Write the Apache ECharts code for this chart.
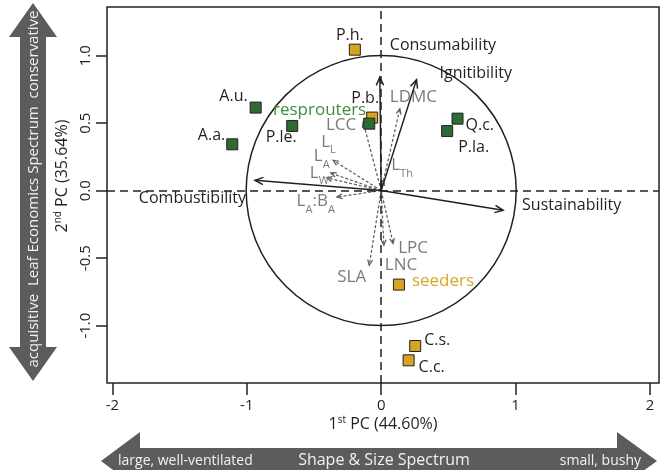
<!DOCTYPE html>
<html><head><meta charset="utf-8">
<script src="https://cdn.jsdelivr.net/npm/echarts@6/dist/echarts.min.js"></script>
<style>html,body{margin:0;padding:0;background:#fff}#c{width:665px;height:470px}</style>
</head><body><div id="c"></div>
<script>
// ---------------- data ----------------
const xTicks = [-2, -1, 0, 1, 2];
const yTicks = [-1, -0.5, 0, 0.5, 1];
const resprouterNames = ["A.u.", "A.a.", "P.le.", "Q.c.", "P.la."];
const resprouterX = [-0.934, -1.108, -0.662, 0.568, 0.491];
const resprouterY = [0.615, 0.343, 0.479, 0.533, 0.441];
const seederNames = ["P.h.", "P.b.", "C.s.", "C.c."];
const seederX = [-0.196, -0.067, 0.253, 0.204];
const seederY = [1.044, 0.541, -1.151, -1.257];
const groupNames = ["resprouters", "seeders"];
const groupX = [-0.089, 0.132];
const groupY = [0.496, -0.696];
const fireNames = ["Consumability", "Ignitibility", "Combustibility", "Sustainability"];
const fireX = [-0.01, 0.263, -0.939, 0.907];
const fireY = [0.841, 0.822, 0.076, -0.146];
const traitNames = ["LDMC", "LCC", "L_L", "L_A", "L_W", "L_A:B_A", "L_Th", "SLA", "LNC", "LPC"];
const traitX = [0.139, -0.134, -0.357, -0.375, -0.405, -0.33, 0.015, -0.089, 0.02, 0.089];
const traitY = [0.607, 0.508, 0.224, 0.13, 0.095, -0.047, 0.078, -0.553, -0.405, -0.393];

// ---------------- layout / style ----------------
const FONT = '"Open Sans", sans-serif';
const INK = '#231f20';
const GREEN = '#2e6b34';
const YELLOW = '#d6a51f';
const GREY_TXT = '#7b7b7b';
const GREY_ARROW = '#5a5a5a';
const BAND = '#5c5c5c';

const siteLabelLayout = {
  "A.u.": [-8, -11, 'right'], "A.a.": [-7, -9, 'right'], "P.le.": [-11, 11, 'center'],
  "Q.c.": [8, 7, 'left'], "P.la.": [11, 16, 'left'], "P.h.": [-5, -14, 'center'],
  "P.b.": [-7, -19, 'center'], "C.s.": [9, -6, 'left'], "C.c.": [10, 7, 'left'],
  "resprouters": [-3, -13, 'right'], "seeders": [13, -3, 'left']
};
const traitLabelLayout = {
  "LDMC": [-10, -10, 'left'], "LCC": [-7, 5, 'right'], "L_L": [-12, -17, 'left'],
  "L_A": [-17, -15, 'left'], "L_W": [-17, -3, 'left'], "L_A:B_A": [-2, 6, 'right'],
  "L_Th": [8, -13, 'left'], "SLA": [-3, 13, 'right'], "LNC": [1, 21, 'left'], "LPC": [5, 6, 'left']
};
const fireLabelLayout = {
  "Consumability": [10, -30, 'left'], "Ignitibility": [23, -4, 'left'],
  "Combustibility": [-9, 20, 'right'], "Sustainability": [19, -3, 'left']
};

function richName(n) {
  return n.replace(/_(\w+)/g, '{s|$1}').replace(/(^|\})([^{}]+)(?=\{|$)/g, '$1{n|$2}');
}

function siteData(names, xs, ys) {
  return names.map((n, i) => {
    const L = siteLabelLayout[n];
    return { name: n, value: [xs[i], ys[i]], label: { offset: [L[0], L[1]], align: L[2] } };
  });
}

function arrowSeries(names, xs, ys, layout, opt) {
  return {
    type: 'custom', coordinateSystem: 'cartesian2d', silent: true, z: opt.z,
    data: xs.map((x, i) => [x, ys[i], i]),
    renderItem(params, api) {
      const o = api.coord([0, 0]);
      const t = api.coord([api.value(0), api.value(1)]);
      const idx = api.value(2);
      const ang = Math.atan2(t[1] - o[1], t[0] - o[0]);
      const h = opt.head, sp = 0.42;
      const h1 = [t[0] + h * Math.cos(ang + Math.PI - sp), t[1] + h * Math.sin(ang + Math.PI - sp)];
      const h2 = [t[0] + h * Math.cos(ang + Math.PI + sp), t[1] + h * Math.sin(ang + Math.PI + sp)];
      const L = layout[names[idx]];
      return {
        type: 'group', children: [
          { type: 'line', shape: { x1: o[0], y1: o[1], x2: t[0], y2: t[1] },
            style: { stroke: opt.color, lineWidth: opt.width, lineDash: opt.dash } },
          { type: 'polyline', shape: { points: [h1, t, h2] },
            style: { stroke: opt.color, lineWidth: opt.width, fill: null } },
          { type: 'text', x: t[0] + L[0], y: t[1] + L[1],
            style: { text: richName(names[idx]), align: L[2], verticalAlign: 'middle',
              fill: opt.textColor, fontFamily: FONT, fontSize: opt.fontSize,
              rich: {
                n: { fontSize: opt.fontSize, fontFamily: FONT, fill: opt.textColor, verticalAlign: 'top', lineHeight: 20 },
                s: { fontSize: 11, fontFamily: FONT, fill: opt.textColor, verticalAlign: 'top', padding: [11, 0, 0, 0], lineHeight: 12 }
              } } }
        ]
      };
    }
  };
}

const chart = echarts.init(document.getElementById('c'), null, { renderer: 'canvas' });

const siteLabel = { show: true, position: 'inside', color: INK, fontFamily: FONT, fontSize: 16, verticalAlign: 'middle' };

const option = {
  backgroundColor: '#fff',
  animation: false,
  grid: { left: 107, right: 6, top: 7, bottom: 87, show: true, borderColor: INK, borderWidth: 1.5,
          backgroundColor: 'transparent', outerBoundsMode: 'none' },
  xAxis: {
    type: 'value', min: -2.04, max: 2.067,
    axisLine: { show: false, onZero: false },
    axisTick: { show: true, customValues: xTicks, length: 12, lineStyle: { color: INK, width: 1.5 } },
    axisLabel: { customValues: xTicks, color: INK, fontFamily: FONT, fontSize: 15, margin: 15 },
    splitLine: { show: false }
  },
  yAxis: {
    type: 'value', min: -1.425, max: 1.36,
    axisLine: { show: false, onZero: false },
    axisTick: { show: true, customValues: yTicks, length: 11, lineStyle: { color: INK, width: 1.5 } },
    axisLabel: { customValues: yTicks, rotate: 90, color: INK, fontFamily: FONT, fontSize: 15, margin: 14,
                 formatter: v => v.toFixed(1) },
    splitLine: { show: false }
  },
  graphic: [
    // horizontal big arrow (Shape & Size Spectrum)
    { type: 'polygon', silent: true, z: 1,
      shape: { points: [[101, 461], [140, 432], [140, 448], [617, 448], [617, 432], [657, 461], [617, 490], [617, 474], [140, 474], [140, 490]] },
      style: { fill: BAND } },
    { type: 'text', x: 118, y: 461, style: { text: 'large, well-ventilated', fill: '#f2f2f2', fontFamily: FONT, fontSize: 14, align: 'left', verticalAlign: 'middle' }, z: 2 },
    { type: 'text', x: 384, y: 460, style: { text: 'Shape & Size Spectrum', fill: '#f2f2f2', fontFamily: FONT, fontSize: 16, align: 'center', verticalAlign: 'middle' }, z: 2 },
    { type: 'text', x: 641, y: 461, style: { text: 'small, bushy', fill: '#f2f2f2', fontFamily: FONT, fontSize: 14, align: 'right', verticalAlign: 'middle' }, z: 2 },
    // vertical big arrow (Leaf Economics Spectrum)
    { type: 'polygon', silent: true, z: 1,
      shape: { points: [[33, 3], [57, 37], [46, 37], [46, 347], [57, 347], [33, 381], [9, 347], [20, 347], [20, 37], [9, 37]] },
      style: { fill: BAND } },
    { type: 'text', x: 34, y: 189, rotation: Math.PI / 2,
      style: { text: 'acquisitive  Leaf Economics Spectrum  conservative', fill: '#f2f2f2', fontFamily: FONT, fontSize: 15, align: 'center', verticalAlign: 'middle' }, z: 2 },
    // axis titles
    { type: 'text', x: 383, y: 424,
      style: { text: '{n|1}{sup|st}{n| PC (44.60%)}', align: 'center', verticalAlign: 'middle',
        rich: { n: { fontSize: 16, fontFamily: FONT, fill: INK, verticalAlign: 'bottom' },
                sup: { fontSize: 10, fontFamily: FONT, fill: INK, verticalAlign: 'bottom', padding: [0, 0, 7, 0] } } } },
    { type: 'text', x: 62, y: 176, rotation: Math.PI / 2,
      style: { text: '{n|2}{sup|nd}{n| PC (35.64%)}', align: 'center', verticalAlign: 'middle',
        rich: { n: { fontSize: 16, fontFamily: FONT, fill: INK, verticalAlign: 'bottom' },
                sup: { fontSize: 10, fontFamily: FONT, fill: INK, verticalAlign: 'bottom', padding: [0, 0, 7, 0] } } } }
  ],
  series: [
    { // correlation circle
      type: 'custom', coordinateSystem: 'cartesian2d', silent: true, z: 1,
      data: [[0, 0]],
      renderItem(params, api) {
        const c = api.coord([0, 0]);
        const r = api.size([0, 1])[1];
        return { type: 'circle', shape: { cx: c[0], cy: c[1], r: r }, style: { stroke: INK, lineWidth: 1.5, fill: null } };
      },
      markLine: {
        silent: true, symbol: ['none', 'none'], label: { show: false },
        lineStyle: { color: INK, type: [8, 5], width: 1.5 },
        data: [{ xAxis: 0 }, { yAxis: 0 }]
      }
    },
    arrowSeries(traitNames, traitX, traitY, traitLabelLayout,
      { color: GREY_ARROW, width: 1.2, dash: [3, 2], head: 6, textColor: GREY_TXT, fontSize: 17, z: 3 }),
    arrowSeries(fireNames, fireX, fireY, fireLabelLayout,
      { color: INK, width: 1.5, dash: null, head: 9, textColor: INK, fontSize: 16, z: 4 }),
    { type: 'scatter', name: 'seeders', symbol: 'rect', symbolSize: 11, z: 5,
      itemStyle: { color: YELLOW, borderColor: INK, borderWidth: 1, opacity: 1 },
      label: Object.assign({}, siteLabel, { formatter: '{b}' }),
      data: siteData(seederNames, seederX, seederY) },
    { type: 'scatter', name: 'resprouters', symbol: 'rect', symbolSize: 11, z: 5,
      itemStyle: { color: GREEN, borderColor: INK, borderWidth: 1, opacity: 1 },
      label: Object.assign({}, siteLabel, { formatter: '{b}' }),
      data: siteData(resprouterNames, resprouterX, resprouterY) },
    { type: 'scatter', name: 'groups', symbol: 'rect', symbolSize: 11, z: 6,
      itemStyle: { borderColor: INK, borderWidth: 1, opacity: 1,
                   color: p => p.dataIndex === 0 ? GREEN : YELLOW },
      label: Object.assign({}, siteLabel, { formatter: '{b}', fontSize: 17 }),
      data: siteData(groupNames, groupX, groupY).map((d, i) => {
        d.label.color = i === 0 ? '#3f8c3f' : '#d6a82a';
        return d;
      }) }
  ]
};
chart.setOption(option);
</script>
</body></html>
